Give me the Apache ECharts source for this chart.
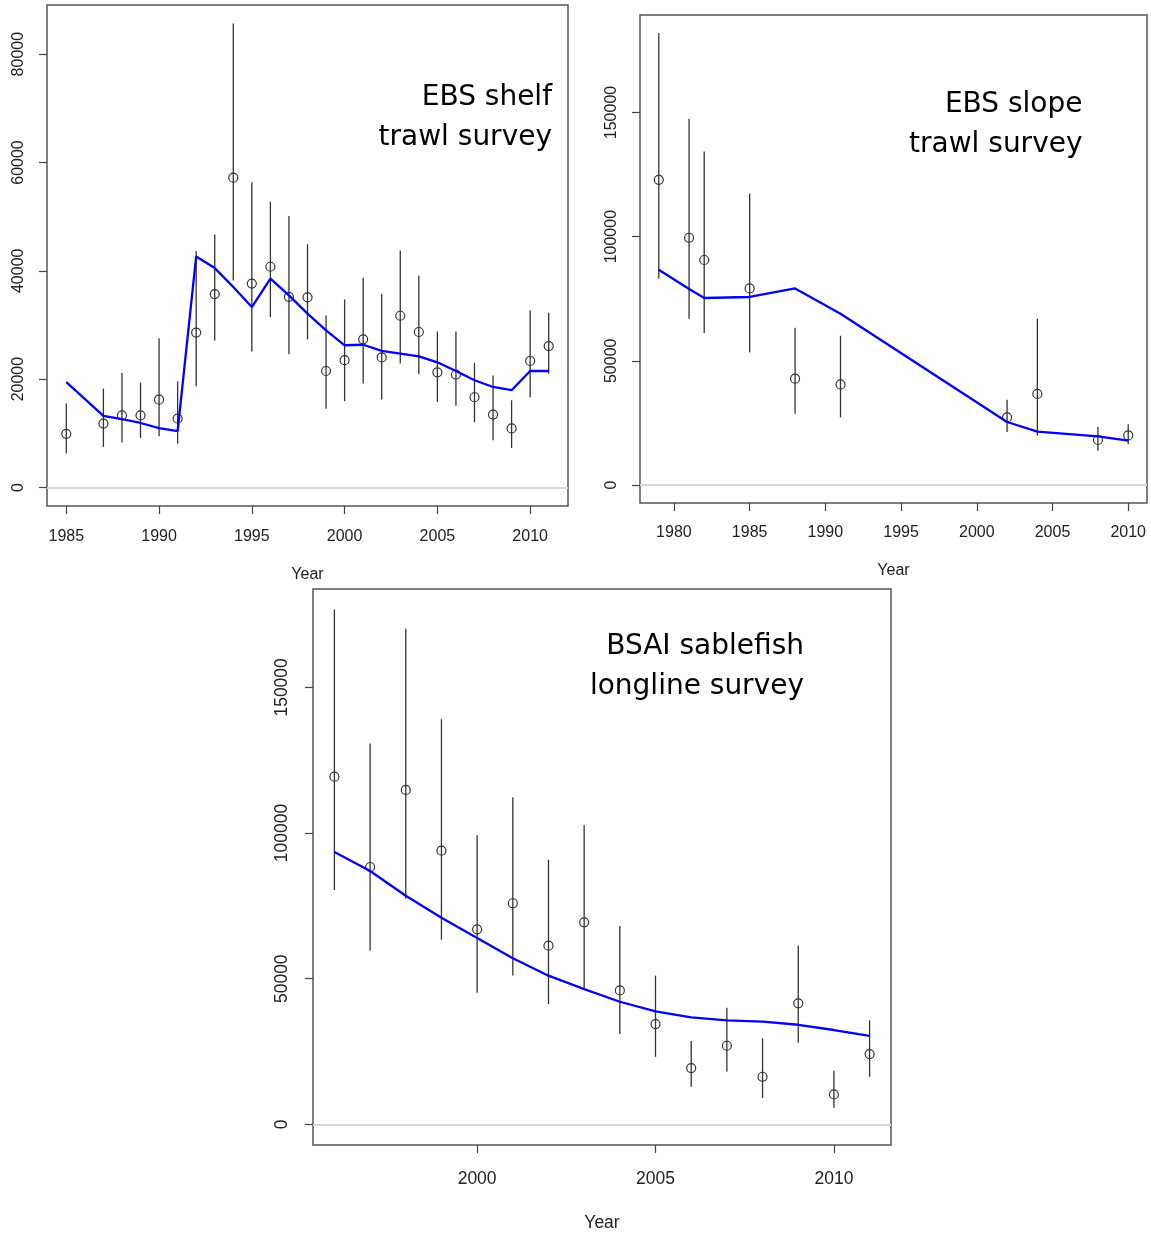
<!DOCTYPE html>
<html>
<head>
<meta charset="utf-8">
<script src="https://cdn.jsdelivr.net/npm/echarts@6/dist/echarts.min.js"></script>
<style>
html,body{margin:0;padding:0;background:#ffffff;}
#c{width:1151px;height:1234px;}
</style>
</head>
<body>
<div id="c"></div>
<script>
// ---------- EBS shelf trawl survey ----------
const shelfYears = [1985,1987,1988,1989,1990,1991,1992,1993,1994,1995,1996,1997,1998,1999,2000,2001,2002,2003,2004,2005,2006,2007,2008,2009,2010,2011];
const shelfObs   = [9900,11800,13300,13300,16200,12700,28600,35700,57200,37650,40750,35200,35100,21500,23500,27350,24000,31700,28700,21250,20850,16650,13450,10900,23350,26100];
const shelfLow   = [6300,7500,8300,9150,9450,8100,18700,27150,38200,25100,31450,24600,27350,14550,15950,19200,16250,22900,20950,15750,15100,12050,8700,7300,16600,21000];
const shelfHigh  = [15500,18250,21150,19350,27550,19600,43650,46700,85650,56350,52750,50100,44900,31750,34700,38700,35750,43750,39100,28800,28800,23000,20650,16100,32700,32250];
const shelfPred  = [19450,13200,12600,11900,10950,10400,42650,40500,37000,33300,38550,35450,32100,29000,26250,26350,25200,24700,24200,23100,21500,19800,18550,17950,21500,21500];
const shelfXTicks = [1985,1990,1995,2000,2005,2010];
const shelfYTicks = [0,20000,40000,60000,80000];
const shelfTitle = ['EBS shelf','trawl survey'];

// ---------- EBS slope trawl survey ----------
const slopeYears = [1979,1981,1982,1985,1988,1991,2002,2004,2008,2010];
const slopeObs   = [122900,99550,90600,79150,42800,40500,27200,36650,18100,19950];
const slopeLow   = [83050,66950,61200,53400,28700,27200,21350,19850,13800,16350];
const slopeHigh  = [182000,147450,134300,117400,63350,60100,34350,66950,23350,24400];
const slopePred  = [86700,78900,75300,75700,79150,68950,25350,21450,19550,17850];
const slopeXTicks = [1980,1985,1990,1995,2000,2005,2010];
const slopeYTicks = [0,50000,100000,150000];
const slopeTitle = ['EBS slope','trawl survey'];

// ---------- BSAI sablefish longline survey ----------
const lonYears = [1996,1997,1998,1999,2000,2001,2002,2003,2004,2005,2006,2007,2008,2009,2010,2011];
const lonObs   = [119350,88350,114800,93950,66950,75900,61350,69350,46000,34450,19350,27000,16350,41550,10300,24150];
const lonLow   = [80450,59600,77450,63400,45200,51150,41300,46700,31000,23200,12900,18200,9050,28000,5700,16350];
const lonHigh  = [176700,130700,170100,139100,99250,112300,90850,102700,68100,51050,28600,40050,29550,61350,18400,35700];
const lonPred  = [93500,87000,78500,70950,64000,57000,51050,46450,42100,38800,36750,35700,35250,34200,32400,30400];
const lonXTicks = [2000,2005,2010];
const lonYTicks = [0,50000,100000,150000];
const lonTitle = ['BSAI sablefish','longline survey'];

const xAxisName = 'Year';

// ---------- layout ----------
const panels = [
  {years:shelfYears, obs:shelfObs, low:shelfLow, high:shelfHigh, pred:shelfPred, xTicks:shelfXTicks, yTicks:shelfYTicks, title:shelfTitle,
   grid:{left:47, top:5, width:521, height:501}, xMin:1983.96, xMax:2012.04, yMin:-3426, yMax:89076,
   fs:16, nameGap:61, xMargin:23, yMargin:20, titleX:552, titleY:[98,137.5], titleFs:28},
  {years:slopeYears, obs:slopeObs, low:slopeLow, high:slopeHigh, pred:slopePred, xTicks:slopeXTicks, yTicks:slopeYTicks, title:slopeTitle,
   grid:{left:640, top:15, width:507, height:488}, xMin:1977.76, xMax:2011.24, yMin:-7280, yMax:189280,
   fs:16, nameGap:60, xMargin:22, yMargin:20, titleX:1082.5, titleY:[105,144.5], titleFs:28},
  {years:lonYears, obs:lonObs, low:lonLow, high:lonHigh, pred:lonPred, xTicks:lonXTicks, yTicks:lonYTicks, title:lonTitle,
   grid:{left:313, top:589, width:578, height:556}, xMin:1995.4, xMax:2011.6, yMin:-7068, yMax:183768,
   fs:17.5, nameGap:69, xMargin:25, yMargin:22, titleX:804, titleY:[647,686.5], titleFs:28}
];

const labelFont = '"Liberation Sans", Arial, sans-serif';
const grids = [], xAxes = [], yAxes = [], series = [], graphics = [];

panels.forEach((p, i) => {
  grids.push(Object.assign({show:true, borderColor:'#555555', borderWidth:1.5, backgroundColor:'transparent', containLabel:false}, p.grid));
  xAxes.push({
    type:'value', gridIndex:i, min:p.xMin, max:p.xMax, position:'bottom',
    axisLine:{show:false, onZero:false}, splitLine:{show:false},
    axisTick:{show:true, inside:false, length:8, customValues:p.xTicks, lineStyle:{color:'#444444', width:1.2}},
    axisLabel:{show:true, customValues:p.xTicks, formatter:(v)=>String(v), margin:p.xMargin, color:'#222222', fontSize:p.fs, fontFamily:labelFont},
    name:xAxisName, nameLocation:'middle', nameGap:p.nameGap,
    nameTextStyle:{color:'#222222', fontSize:p.fs, fontFamily:labelFont}
  });
  yAxes.push({
    type:'value', gridIndex:i, min:p.yMin, max:p.yMax, position:'left',
    axisLine:{show:false, onZero:false}, splitLine:{show:false},
    axisTick:{show:true, inside:false, length:8, customValues:p.yTicks, lineStyle:{color:'#444444', width:1.2}},
    axisLabel:{show:true, customValues:p.yTicks, formatter:(v)=>String(v), rotate:90, margin:p.yMargin, color:'#222222', fontSize:p.fs, fontFamily:labelFont}
  });
  const ebData = p.years.map((y, k) => [y, p.low[k], p.high[k]]);
  series.push({
    type:'custom', xAxisIndex:i, yAxisIndex:i, z:2, silent:true,
    data: ebData,
    encode:{x:0, y:[1,2]},
    renderItem:(params, api) => {
      const a = api.coord([api.value(0), api.value(1)]);
      const b = api.coord([api.value(0), api.value(2)]);
      return {type:'line', shape:{x1:a[0], y1:a[1], x2:b[0], y2:b[1]}, style:{stroke:'#333333', lineWidth:1.3}};
    },
    markLine:{silent:true, symbol:['none','none'], label:{show:false},
      lineStyle:{color:'#d6d6d6', width:2, type:'solid'}, data:[{yAxis:0}]}
  });
  series.push({
    type:'scatter', xAxisIndex:i, yAxisIndex:i, z:3, silent:true,
    symbol:'circle', symbolSize:9,
    itemStyle:{color:'rgba(0,0,0,0)', borderColor:'#333333', borderWidth:1.2, opacity:1},
    data: p.years.map((y, k) => [y, p.obs[k]])
  });
  series.push({
    type:'line', xAxisIndex:i, yAxisIndex:i, z:4, silent:true,
    showSymbol:false, symbol:'none',
    lineStyle:{color:'#0000ff', width:2.3},
    data: p.years.map((y, k) => [y, p.pred[k]])
  });
  p.title.forEach((t, k) => {
    graphics.push({type:'text', x:p.titleX, y:p.titleY[k], z:10, silent:true,
      style:{text:t, fill:'#000000', font:p.titleFs + 'px "DejaVu Sans", Verdana, sans-serif', align:'right', verticalAlign:'middle', textAlign:'right', textVerticalAlign:'middle'}});
  });
});

const chart = echarts.init(document.getElementById('c'), null, {renderer:'canvas'});
chart.setOption({
  animation:false,
  backgroundColor:'#ffffff',
  grid:grids, xAxis:xAxes, yAxis:yAxes, series:series, graphic:graphics
});
</script>
</body>
</html>
